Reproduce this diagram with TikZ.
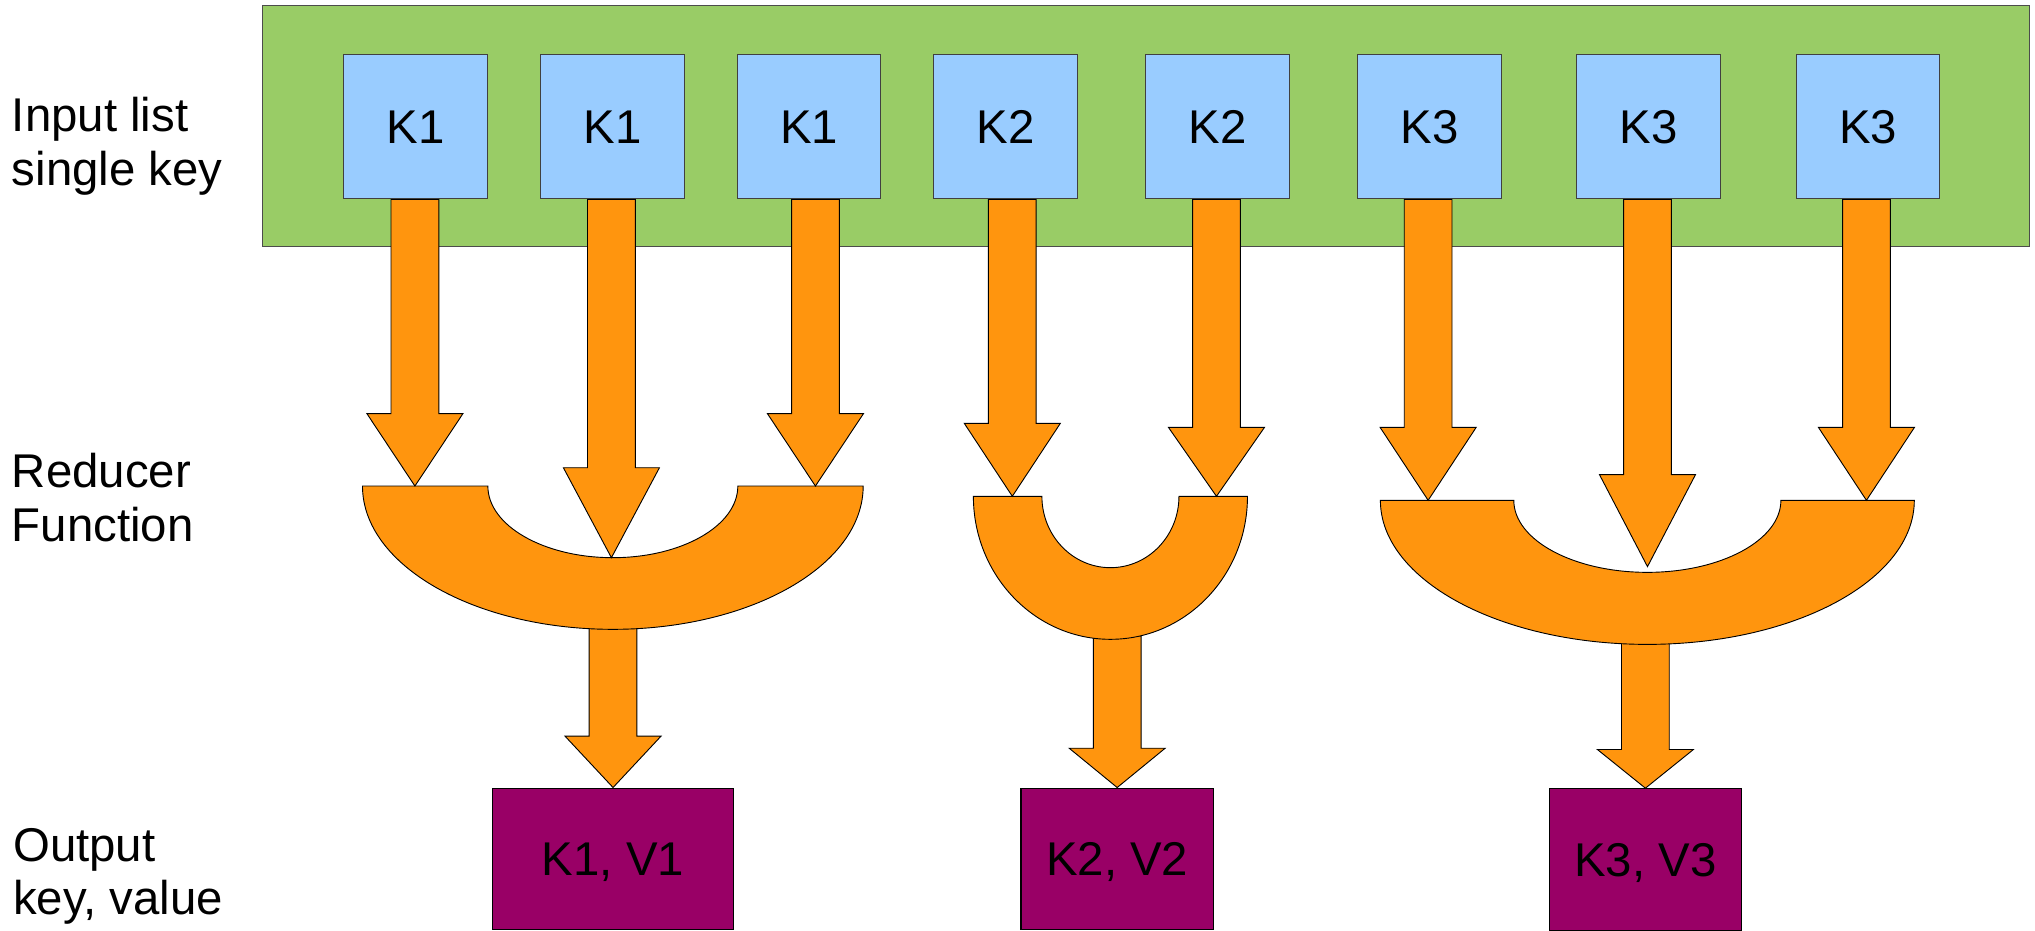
\documentclass[tikz,border=0pt]{standalone}
\usepackage{fontspec}
\setmainfont{Liberation Sans}
\usetikzlibrary{calc}
\definecolor{ingreen}{HTML}{99CC66}
\definecolor{keyblue}{HTML}{99CCFF}
\definecolor{redorange}{HTML}{FF950E}
\definecolor{outpurple}{HTML}{990066}
\tikzset{
  bigfont/.style={font=\fontsize{36.5}{42}\selectfont},
  listbox/.style={draw=black!70, fill=ingreen, line width=0.8pt, inner sep=0pt},
  keybox/.style={draw=black!75, fill=keyblue, line width=0.8pt, minimum width=110.8pt,
    minimum height=111.2pt, inner sep=0pt, bigfont, text height=26pt, text depth=0pt},
  outbox/.style={draw=black, fill=outpurple, line width=0.8pt, minimum height=109.3pt,
    inner sep=0pt, bigfont, text height=26pt, text depth=0pt},
  barrow/.style={draw=black, fill=redorange, line width=0.7pt, line join=miter},
  reducer/.style={draw=black, fill=redorange, line width=0.7pt},
  sidelabel/.style={anchor=base west, inner sep=0pt, bigfont},
}
% block arrow: #1 start (only its y is used), #2 tip, #3 head length
\newcommand\blockarrow[3]{%
  \draw[barrow] let \p1=#1, \p2=#2 in
    (\x2-18.4pt,\y1) -- (\x2+18.4pt,\y1) -- (\x2+18.4pt,\y2+#3pt) -- (\x2+37pt,\y2+#3pt)
    -- (\x2,\y2) -- (\x2-37pt,\y2+#3pt) -- (\x2-18.4pt,\y2+#3pt) -- cycle;}
% half ring: #1 top-centre coordinate, #2 outer rx, #3 outer ry, #4 inner rx, #5 inner ry
\newcommand\halfring[5]{%
  \draw[reducer] ($(#1)+(-#2,0)$) -- ($(#1)+(-#4,0)$)
    arc[start angle=180, end angle=0, x radius=#4, y radius=#5]
    -- ($(#1)+(#2,0)$)
    arc[start angle=0, end angle=180, x radius=#2, y radius=#3] -- cycle;}
\begin{document}
\begin{tikzpicture}[x=1pt, y=-1pt]
\useasboundingbox (0,0) rectangle (1568,717);

% side labels
\node[sidelabel] (l1a) at (9,101) {Input list};
\node[sidelabel] (l1b) at (9,143) {single key};
\node[sidelabel] (l2a) at (9,376) {Reducer};
\node[sidelabel] (l2b) at (9,417) {Function};
\node[sidelabel] (l3a) at (10,664) {Output};
\node[sidelabel] (l3b) at (10,705) {key, value};

% input list
\node[listbox, minimum width=1361.5pt, minimum height=185.2pt] (inlist) at (883.05,97) {};
\node[keybox] (b1) at (320.3,97.7) {K1};
\node[keybox] (b2) at (472.0,97.7) {K1};
\node[keybox] (b3) at (623.4,97.7) {K1};
\node[keybox] (b4) at (774.8,97.7) {K2};
\node[keybox] (b5) at (938.2,97.7) {K2};
\node[keybox] (b6) at (1101.5,97.7) {K3};
\node[keybox] (b7) at (1270.2,97.7) {K3};
\node[keybox] (b8) at (1439.3,97.7) {K3};

% output boxes
\node[outbox, minimum width=185.5pt] (o1) at (472.35,661.85) {K1, V1};
\node[outbox, minimum width=148.2pt] (o2) at (860.8,661.85) {K2, V2};
\node[outbox, minimum width=148pt] (o3) at (1267.8,662.35) {K3, V3};

% reducer reference points
\coordinate (r1) at (472.2,374.5);
\coordinate (r2) at (855.6,382.4);
\coordinate (r3) at (1269.3,385.5);
\coordinate (r1b) at (472.2,482);
\coordinate (r2b) at (855.6,490);
\coordinate (r3b) at (1269.3,493.5);

% arrow tips on the reducers
\coordinate (t1) at (319.7,374.5);
\coordinate (t2) at (471.1,429.7);
\coordinate (t3) at (628.3,374.5);
\coordinate (t4) at (780.0,382.4);
\coordinate (t5) at (937.3,382.4);
\coordinate (t6) at (1100.4,385.5);
\coordinate (t7) at (1269.4,436.6);
\coordinate (t8) at (1438.1,385.5);

% output arrows (behind reducers)
\blockarrow{(r1b)}{(o1.north)}{39.6}
\blockarrow{(r2b)}{(o2.north)}{30.3}
\blockarrow{(r3b)}{(o3.north)}{29.8}

% reducers
\halfring{r1}{192.9}{110.4}{96.3}{55.2}
\halfring{r2}{105.6}{110.2}{52.8}{55.0}
\halfring{r3}{205.7}{111.0}{102.9}{55.5}

% input arrows
\blockarrow{(b1.south)}{(t1)}{55.8}
\blockarrow{(b2.south)}{(t2)}{69.3}
\blockarrow{(b3.south)}{(t3)}{55.8}
\blockarrow{(b4.south)}{(t4)}{56.2}
\blockarrow{(b5.south)}{(t5)}{53.1}
\blockarrow{(b6.south)}{(t6)}{56.2}
\blockarrow{(b7.south)}{(t7)}{70.9}
\blockarrow{(b8.south)}{(t8)}{56.2}
\end{tikzpicture}
\end{document}
